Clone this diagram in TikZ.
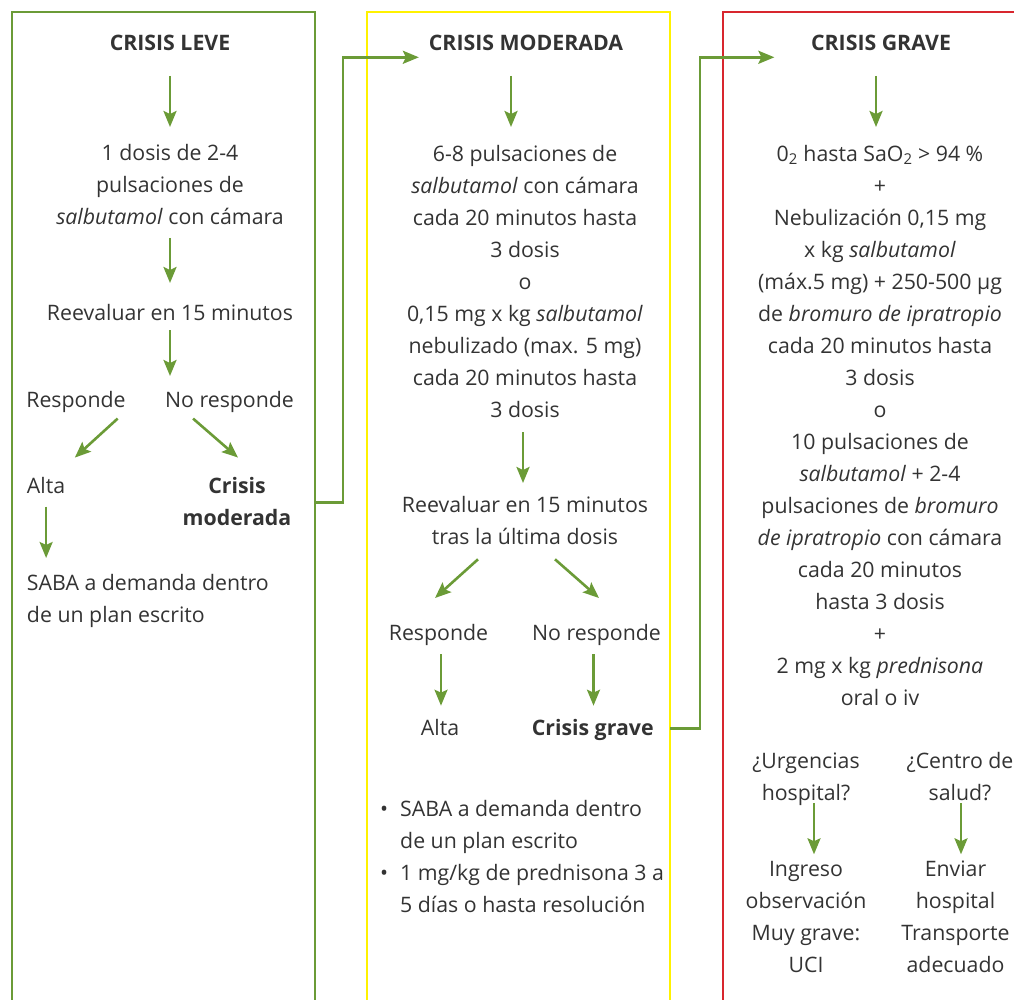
\documentclass[tikz,border=0pt]{standalone}
\usepackage{fontspec}
\setmainfont{Open Sans}
\usetikzlibrary{arrows.meta}
\definecolor{cgreen}{HTML}{6B9B37}
\definecolor{cyellow}{HTML}{FFF200}
\definecolor{cred}{HTML}{D8262E}
\definecolor{ctext}{HTML}{333333}
\tikzset{
  every picture/.style={line width=2.4pt},
  frame/.style={draw=#1, line width=2.2pt, inner sep=0pt, outer sep=0pt, anchor=north west},
  txt/.style={font=\fontsize{21.3}{32}\selectfont, text=ctext, inner sep=0pt, outer sep=0pt, align=center, anchor=north,
    execute at begin node=\strut, execute at end node=\strut},
  head/.style={txt, font=\fontsize{21.3}{32}\selectfont\bfseries},
  arrow/.style={-{Stealth[length=16pt, width=13pt, inset=3pt]}, draw=cgreen, line width=2.6pt},
}
\begin{document}
\begin{tikzpicture}[x=1pt, y=-1pt]
  \useasboundingbox (0,0) rectangle (1014,1000);
  \clip (0,0) rectangle (1014,1000);
  % frames
  \node[frame=cgreen, minimum width=303pt, minimum height=1000pt] (fleve) at (12,12) {};
  \node[frame=cyellow, minimum width=303pt, minimum height=1000pt] (fmod) at (367,12) {};
  \node[frame=cred, minimum width=320pt, minimum height=1000pt] (fgrave) at (723,12) {};
  % crisis leve
  \node[head] (t1) at (170, 28.6) {CRISIS LEVE};
  \node[txt] (l1) at (170, 138.6) {\strut 1 dosis de 2-4\\pulsaciones de\\\textit{salbutamol} con cámara};
  \node[txt] (l2) at (170, 297.6) {Reevaluar en 15 minutos};
  \node[txt] (l3) at (76, 384.6) {Responde};
  \node[txt] (l4) at (229.5, 384.6) {No responde};
  \node[txt, anchor=north west] (l5) at (27, 470.6) {Alta};
  \node[head] (cm) at (237, 470.6) {\strut Crisis\\moderada};
  \node[txt, anchor=north west, align=left] (l6) at (27, 567.6) {\strut SABA a demanda dentro\\de un plan escrito};
  % crisis moderada
  \node[head] (t2) at (526, 28.6) {CRISIS MODERADA};
  \node[txt] (m1) at (525, 138.6) {\strut 6-8 pulsaciones de\\\textit{salbutamol} con cámara\\cada 20 minutos hasta\\3 dosis\\o\\
    0,15 mg x kg \textit{salbutamol}\\nebulizado (max. 5 mg)\\cada 20 minutos hasta\\3 dosis};
  \node[txt] (m2) at (525, 490.3) {\strut Reevaluar en 15 minutos\\tras la última dosis};
  \node[txt] (m3) at (438.5, 617.6) {Responde};
  \node[txt] (m4) at (596.5, 617.6) {No responde};
  \node[txt] (m5) at (440, 712.6) {Alta};
  \node[head] (cg) at (592.7, 712.6) {Crisis grave};
  \node[font=\fontsize{21.3}{32}\selectfont, text=ctext, inner sep=0pt, anchor=north west] (mb) at (379, 792.6)
    {\begin{tabular}{@{}l@{\hspace{12pt}}l@{}}
      • & SABA a demanda dentro\\
        & de un plan escrito\\
      • & 1 mg/kg de prednisona 3 a\\
        & 5 días o hasta resolución
    \end{tabular}};
  % crisis grave
  \node[head] (t3) at (881, 28.6) {CRISIS GRAVE};
  \node[txt] (g1) at (880, 138.6) {\strut 0\textsubscript{2} hasta SaO\textsubscript{2} > 94 \%\\+\\Nebulización 0,15 mg\\
    x kg \textit{salbutamol}\\(máx.5 mg) + 250-500 µg\\de \textit{bromuro de ipratropio}\\cada 20 minutos hasta\\3 dosis\\o\\
    10 pulsaciones de\\\textit{salbutamol} + 2-4\\pulsaciones de \textit{bromuro}\\\textit{de ipratropio} con cámara\\
    cada 20 minutos\\hasta 3 dosis\\+\\2 mg x kg \textit{prednisona}\\oral o iv};
  \node[txt] (g2) at (806, 745.6) {\strut ¿Urgencias\\hospital?};
  \node[txt] (g3) at (960, 745.6) {\strut ¿Centro de\\salud?};
  \node[txt] (g4) at (806, 854.3) {\strut Ingreso\\observación\\Muy grave:\\UCI};
  \node[txt] (g5) at (955.5, 854.3) {\strut Enviar\\hospital\\Transporte\\adecuado};
  % vertical arrows
  \foreach \a/\b/\dx/\s/\e in {t1/l1/0/15.4/11.6, l1/l2/0/3.4/14.6, l2/l3/0/0.4/8.6, l5/l6/0/4.1/9.6,
      t2/m1/-15/15.4/11.6, m1/m2/-2/5.4/7.3, m3/m5/2.5/4.4/6.9, m4/cg/-3/4.4/6.9,
      t3/g1/-5/15.4/11.6, g2/g4/8/-6.6/0, g3/g5/1/-6.6/0}
    \draw[arrow, shorten <=\s pt, shorten >=\e pt] ([xshift=\dx pt]\a.south) -- ([xshift=\dx pt]\a.south |- \b.north);
  % diagonal arrows
  \draw[arrow] ([shift={(-8,2)}]l3.south east) -- ([shift={(9.6,-13)}]l5.north east);
  \draw[arrow] ([shift={(28,2)}]l4.south west) -- ([shift={(1,-13)}]cm.north);
  \draw[arrow] ([shift={(-47,5)}]m2.south) -- ([shift={(-3.5,-19.6)}]m3.north);
  \draw[arrow] ([shift={(30,5)}]m2.south) -- ([shift={(2.5,-19.6)}]m4.north);
  % links between columns
  \draw[arrow, shorten >=10pt] (cm.east -| fleve.east) -- ++(28,0) |- ([yshift=-12.7pt]t2.west);
  \draw[arrow, shorten >=36.7pt] (cg.east -| fmod.east) -- ++(30,0) |- ([yshift=-12.7pt]t3.west);
\end{tikzpicture}
\end{document}
